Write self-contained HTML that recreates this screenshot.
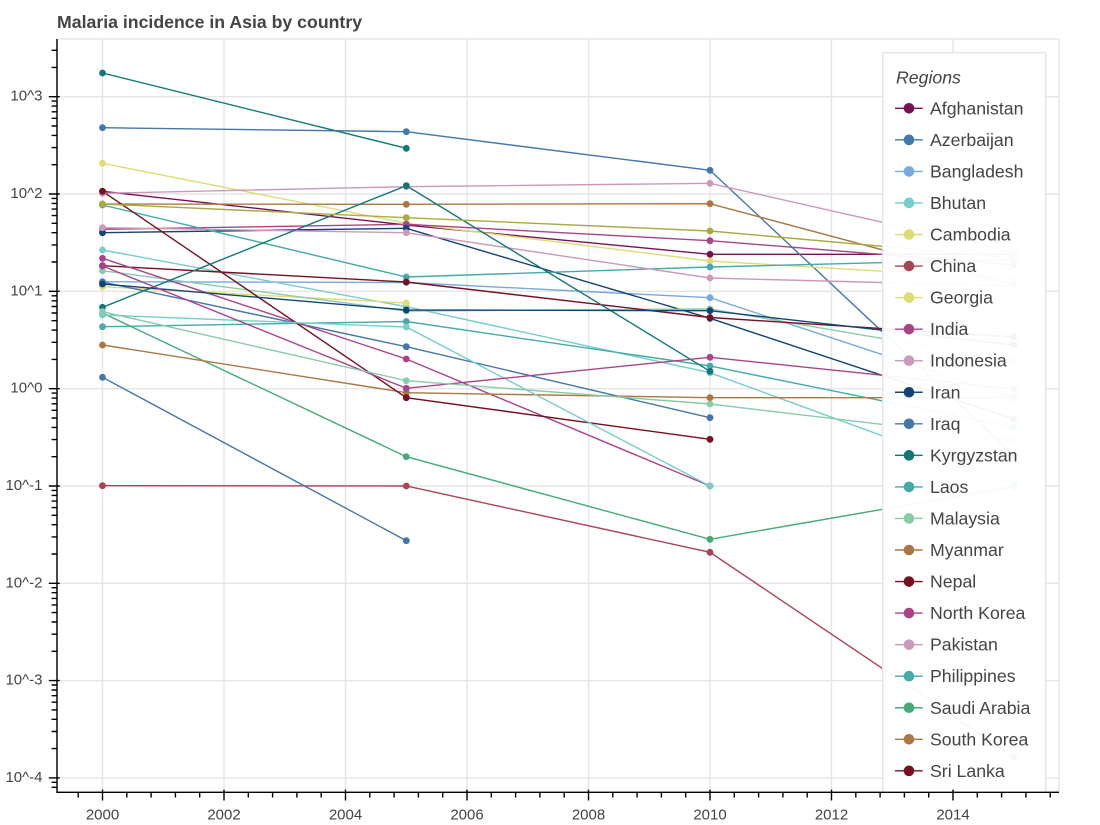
<!DOCTYPE html>
<html><head><meta charset="utf-8"><style>
html,body{margin:0;padding:0;background:#fff;}
svg{display:block;font-family:"Liberation Sans",Arial,sans-serif;}
</style></head><body>
<svg width="1100" height="825" viewBox="0 0 1100 825" xmlns="http://www.w3.org/2000/svg">
<defs><clipPath id="pc"><rect x="57" y="39" width="1002" height="753"/></clipPath></defs>
<rect width="1100" height="825" fill="#fff"/>
<text x="57" y="28" font-size="17.7" font-weight="bold" fill="#444">Malaria incidence in Asia by country</text>
<!-- grid -->
<g stroke="#e5e5e5" stroke-width="1.4" fill="none">
<path d="M102.5 39V792M224 39V792M345.5 39V792M467 39V792M588.5 39V792M710 39V792M831.5 39V792M953 39V792"/>
<path d="M57 96.7H1059M57 194H1059M57 291.3H1059M57 388.7H1059M57 486H1059M57 583.3H1059M57 680.6H1059M57 777.9H1059"/>
<rect x="57" y="39" width="1002" height="753"/>
</g>
<!-- series -->
<g clip-path="url(#pc)" stroke-width="1.4" fill="none">
<g stroke="#771155"><polyline points="102.5,191.3 406.3,225 710,254.3 1013.8,254.3"/></g>
<g stroke="#4477AA"><polyline points="102.5,127.7 406.3,131.7 710,170.3 1013.8,455"/></g>
<g stroke="#77AADD"><polyline points="102.5,281.7 406.3,282.5 710,297.7 1013.8,398"/></g>
<g stroke="#77CCCC"><polyline points="102.5,250 406.3,306.7 710,372.7 1013.8,484"/></g>
<g stroke="#DDDD77"><polyline points="102.5,163.3 406.3,223.2 710,261 1013.8,279"/></g>
<g stroke="#AA4455"><polyline points="102.5,485.7 406.3,486 710,552.3 1013.8,757"/></g>
<g stroke="#DDDD77"><polyline points="102.5,286.7 406.3,303"/></g>
<g stroke="#AA4488"><polyline points="102.5,229.3 406.3,224.3 710,240.7 1013.8,265"/></g>
<g stroke="#CC99BB"><polyline points="102.5,193.3 406.3,186.7 710,183.3 1013.8,252"/></g>
<g stroke="#114477"><polyline points="102.5,232.7 406.3,228.3 710,318.3 1013.8,419"/></g>
<g stroke="#4477AA"><polyline points="102.5,282 406.3,346.7 710,417.7"/></g>
<g stroke="#117777"><polyline points="102.5,73 406.3,148.3"/></g>
<g stroke="#44AAAA"><polyline points="102.5,205 406.3,277 710,267 1013.8,259.3"/></g>
<g stroke="#88CCAA"><polyline points="102.5,270.7 406.3,311 710,309 1013.8,361"/></g>
<g stroke="#AA7744"><polyline points="102.5,204 406.3,204.3 710,203.7 1013.8,285"/></g>
<g stroke="#771122"><polyline points="102.5,265.7 406.3,282 710,317.5 1013.8,337"/></g>
<g stroke="#AA4488"><polyline points="102.5,258.3 406.3,359 710,486"/></g>
<g stroke="#CC99BB"><polyline points="102.5,227.7 406.3,232.7 710,278 1013.8,286"/></g>
<g stroke="#44AAAA"><polyline points="102.5,326.7 406.3,321.5 710,366 1013.8,427.5"/></g>
<g stroke="#44AA77"><polyline points="102.5,313 406.3,456.7 710,539.3 1013.8,486.5"/></g>
<g stroke="#AA7744"><polyline points="102.5,345 406.3,392.7 710,397.7 1013.8,397.7"/></g>
<g stroke="#771122"><polyline points="102.5,191.3 406.3,397.7 710,439.3"/></g>
<g stroke="#117777"><polyline points="102.5,307.3 406.3,185.7 710,371.3"/></g>
<g stroke="#AAAA44"><polyline points="102.5,204 406.3,217.7 710,231 1013.8,258"/></g>
<g stroke="#4477AA"><polyline points="102.5,377.3 406.3,540.7"/></g>
<g stroke="#77CCCC"><polyline points="102.5,315 406.3,327 710,486"/></g>
<g stroke="#114477"><polyline points="102.5,284 406.3,310 710,310.7 1013.8,345"/></g>
<g stroke="#AA4488"><polyline points="102.5,266 406.3,388.3 710,357.3 1013.8,389"/></g>
<g stroke="#88CCAA"><polyline points="102.5,311.7 406.3,380.7 710,404 1013.8,440"/></g>
</g>
<!-- dots -->
<g clip-path="url(#pc)" stroke="none">
<g fill="#771155"><circle cx="102.5" cy="191.3" r="3.4"/><circle cx="406.3" cy="225" r="3.4"/><circle cx="710" cy="254.3" r="3.4"/><circle cx="1013.8" cy="254.3" r="3.4"/></g>
<g fill="#4477AA"><circle cx="102.5" cy="127.7" r="3.4"/><circle cx="406.3" cy="131.7" r="3.4"/><circle cx="710" cy="170.3" r="3.4"/><circle cx="1013.8" cy="455" r="3.4"/></g>
<g fill="#77AADD"><circle cx="102.5" cy="281.7" r="3.4"/><circle cx="406.3" cy="282.5" r="3.4"/><circle cx="710" cy="297.7" r="3.4"/><circle cx="1013.8" cy="398" r="3.4"/></g>
<g fill="#77CCCC"><circle cx="102.5" cy="250" r="3.4"/><circle cx="406.3" cy="306.7" r="3.4"/><circle cx="710" cy="372.7" r="3.4"/><circle cx="1013.8" cy="484" r="3.4"/></g>
<g fill="#DDDD77"><circle cx="102.5" cy="163.3" r="3.4"/><circle cx="406.3" cy="223.2" r="3.4"/><circle cx="710" cy="261" r="3.4"/><circle cx="1013.8" cy="279" r="3.4"/></g>
<g fill="#AA4455"><circle cx="102.5" cy="485.7" r="3.4"/><circle cx="406.3" cy="486" r="3.4"/><circle cx="710" cy="552.3" r="3.4"/><circle cx="1013.8" cy="757" r="3.4"/></g>
<g fill="#DDDD77"><circle cx="102.5" cy="286.7" r="3.4"/><circle cx="406.3" cy="303" r="3.4"/></g>
<g fill="#AA4488"><circle cx="102.5" cy="229.3" r="3.4"/><circle cx="406.3" cy="224.3" r="3.4"/><circle cx="710" cy="240.7" r="3.4"/><circle cx="1013.8" cy="265" r="3.4"/></g>
<g fill="#CC99BB"><circle cx="102.5" cy="193.3" r="3.4"/><circle cx="406.3" cy="186.7" r="3.4"/><circle cx="710" cy="183.3" r="3.4"/><circle cx="1013.8" cy="252" r="3.4"/></g>
<g fill="#114477"><circle cx="102.5" cy="232.7" r="3.4"/><circle cx="406.3" cy="228.3" r="3.4"/><circle cx="710" cy="318.3" r="3.4"/><circle cx="1013.8" cy="419" r="3.4"/></g>
<g fill="#4477AA"><circle cx="102.5" cy="282" r="3.4"/><circle cx="406.3" cy="346.7" r="3.4"/><circle cx="710" cy="417.7" r="3.4"/></g>
<g fill="#117777"><circle cx="102.5" cy="73" r="3.4"/><circle cx="406.3" cy="148.3" r="3.4"/></g>
<g fill="#44AAAA"><circle cx="102.5" cy="205" r="3.4"/><circle cx="406.3" cy="277" r="3.4"/><circle cx="710" cy="267" r="3.4"/><circle cx="1013.8" cy="259.3" r="3.4"/></g>
<g fill="#88CCAA"><circle cx="102.5" cy="270.7" r="3.4"/><circle cx="406.3" cy="311" r="3.4"/><circle cx="710" cy="309" r="3.4"/><circle cx="1013.8" cy="361" r="3.4"/></g>
<g fill="#AA7744"><circle cx="102.5" cy="204" r="3.4"/><circle cx="406.3" cy="204.3" r="3.4"/><circle cx="710" cy="203.7" r="3.4"/><circle cx="1013.8" cy="285" r="3.4"/></g>
<g fill="#771122"><circle cx="102.5" cy="265.7" r="3.4"/><circle cx="406.3" cy="282" r="3.4"/><circle cx="710" cy="317.5" r="3.4"/><circle cx="1013.8" cy="337" r="3.4"/></g>
<g fill="#AA4488"><circle cx="102.5" cy="258.3" r="3.4"/><circle cx="406.3" cy="359" r="3.4"/><circle cx="710" cy="486" r="3.4"/></g>
<g fill="#CC99BB"><circle cx="102.5" cy="227.7" r="3.4"/><circle cx="406.3" cy="232.7" r="3.4"/><circle cx="710" cy="278" r="3.4"/><circle cx="1013.8" cy="286" r="3.4"/></g>
<g fill="#44AAAA"><circle cx="102.5" cy="326.7" r="3.4"/><circle cx="406.3" cy="321.5" r="3.4"/><circle cx="710" cy="366" r="3.4"/><circle cx="1013.8" cy="427.5" r="3.4"/></g>
<g fill="#44AA77"><circle cx="102.5" cy="313" r="3.4"/><circle cx="406.3" cy="456.7" r="3.4"/><circle cx="710" cy="539.3" r="3.4"/><circle cx="1013.8" cy="486.5" r="3.4"/></g>
<g fill="#AA7744"><circle cx="102.5" cy="345" r="3.4"/><circle cx="406.3" cy="392.7" r="3.4"/><circle cx="710" cy="397.7" r="3.4"/><circle cx="1013.8" cy="397.7" r="3.4"/></g>
<g fill="#771122"><circle cx="102.5" cy="191.3" r="3.4"/><circle cx="406.3" cy="397.7" r="3.4"/><circle cx="710" cy="439.3" r="3.4"/></g>
<g fill="#117777"><circle cx="102.5" cy="307.3" r="3.4"/><circle cx="406.3" cy="185.7" r="3.4"/><circle cx="710" cy="371.3" r="3.4"/></g>
<g fill="#AAAA44"><circle cx="102.5" cy="204" r="3.4"/><circle cx="406.3" cy="217.7" r="3.4"/><circle cx="710" cy="231" r="3.4"/><circle cx="1013.8" cy="258" r="3.4"/></g>
<g fill="#4477AA"><circle cx="102.5" cy="377.3" r="3.4"/><circle cx="406.3" cy="540.7" r="3.4"/></g>
<g fill="#77CCCC"><circle cx="102.5" cy="315" r="3.4"/><circle cx="406.3" cy="327" r="3.4"/><circle cx="710" cy="486" r="3.4"/></g>
<g fill="#114477"><circle cx="102.5" cy="284" r="3.4"/><circle cx="406.3" cy="310" r="3.4"/><circle cx="710" cy="310.7" r="3.4"/><circle cx="1013.8" cy="345" r="3.4"/></g>
<g fill="#AA4488"><circle cx="102.5" cy="266" r="3.4"/><circle cx="406.3" cy="388.3" r="3.4"/><circle cx="710" cy="357.3" r="3.4"/><circle cx="1013.8" cy="389" r="3.4"/></g>
<g fill="#88CCAA"><circle cx="102.5" cy="311.7" r="3.4"/><circle cx="406.3" cy="380.7" r="3.4"/><circle cx="710" cy="404" r="3.4"/><circle cx="1013.8" cy="440" r="3.4"/></g>
</g>
<!-- legend -->
<g clip-path="url(#pc)">
<rect x="882.7" y="52.7" width="163" height="760" fill="#fff" fill-opacity="0.95" stroke="#e5e5e5" stroke-width="1.4"/>
<text x="896" y="83.5" font-size="17.7" font-style="italic" fill="#444">Regions</text>
<g font-size="17.7" fill="#444" stroke-width="1.4">
<g transform="translate(0,108.3)"><path d="M895 0H922.7" stroke="#771155"/><circle cx="909" cy="0" r="5.3" fill="#771155"/><text x="930" y="6">Afghanistan</text></g>
<g transform="translate(0,139.85)"><path d="M895 0H922.7" stroke="#4477AA"/><circle cx="909" cy="0" r="5.3" fill="#4477AA"/><text x="930" y="6">Azerbaijan</text></g>
<g transform="translate(0,171.4)"><path d="M895 0H922.7" stroke="#77AADD"/><circle cx="909" cy="0" r="5.3" fill="#77AADD"/><text x="930" y="6">Bangladesh</text></g>
<g transform="translate(0,202.95)"><path d="M895 0H922.7" stroke="#77CCCC"/><circle cx="909" cy="0" r="5.3" fill="#77CCCC"/><text x="930" y="6">Bhutan</text></g>
<g transform="translate(0,234.5)"><path d="M895 0H922.7" stroke="#DDDD77"/><circle cx="909" cy="0" r="5.3" fill="#DDDD77"/><text x="930" y="6">Cambodia</text></g>
<g transform="translate(0,266.05)"><path d="M895 0H922.7" stroke="#AA4455"/><circle cx="909" cy="0" r="5.3" fill="#AA4455"/><text x="930" y="6">China</text></g>
<g transform="translate(0,297.6)"><path d="M895 0H922.7" stroke="#DDDD77"/><circle cx="909" cy="0" r="5.3" fill="#DDDD77"/><text x="930" y="6">Georgia</text></g>
<g transform="translate(0,329.15)"><path d="M895 0H922.7" stroke="#AA4488"/><circle cx="909" cy="0" r="5.3" fill="#AA4488"/><text x="930" y="6">India</text></g>
<g transform="translate(0,360.7)"><path d="M895 0H922.7" stroke="#CC99BB"/><circle cx="909" cy="0" r="5.3" fill="#CC99BB"/><text x="930" y="6">Indonesia</text></g>
<g transform="translate(0,392.25)"><path d="M895 0H922.7" stroke="#114477"/><circle cx="909" cy="0" r="5.3" fill="#114477"/><text x="930" y="6">Iran</text></g>
<g transform="translate(0,423.8)"><path d="M895 0H922.7" stroke="#4477AA"/><circle cx="909" cy="0" r="5.3" fill="#4477AA"/><text x="930" y="6">Iraq</text></g>
<g transform="translate(0,455.35)"><path d="M895 0H922.7" stroke="#117777"/><circle cx="909" cy="0" r="5.3" fill="#117777"/><text x="930" y="6">Kyrgyzstan</text></g>
<g transform="translate(0,486.9)"><path d="M895 0H922.7" stroke="#44AAAA"/><circle cx="909" cy="0" r="5.3" fill="#44AAAA"/><text x="930" y="6">Laos</text></g>
<g transform="translate(0,518.45)"><path d="M895 0H922.7" stroke="#88CCAA"/><circle cx="909" cy="0" r="5.3" fill="#88CCAA"/><text x="930" y="6">Malaysia</text></g>
<g transform="translate(0,550)"><path d="M895 0H922.7" stroke="#AA7744"/><circle cx="909" cy="0" r="5.3" fill="#AA7744"/><text x="930" y="6">Myanmar</text></g>
<g transform="translate(0,581.55)"><path d="M895 0H922.7" stroke="#771122"/><circle cx="909" cy="0" r="5.3" fill="#771122"/><text x="930" y="6">Nepal</text></g>
<g transform="translate(0,613.1)"><path d="M895 0H922.7" stroke="#AA4488"/><circle cx="909" cy="0" r="5.3" fill="#AA4488"/><text x="930" y="6">North Korea</text></g>
<g transform="translate(0,644.65)"><path d="M895 0H922.7" stroke="#CC99BB"/><circle cx="909" cy="0" r="5.3" fill="#CC99BB"/><text x="930" y="6">Pakistan</text></g>
<g transform="translate(0,676.2)"><path d="M895 0H922.7" stroke="#44AAAA"/><circle cx="909" cy="0" r="5.3" fill="#44AAAA"/><text x="930" y="6">Philippines</text></g>
<g transform="translate(0,707.75)"><path d="M895 0H922.7" stroke="#44AA77"/><circle cx="909" cy="0" r="5.3" fill="#44AA77"/><text x="930" y="6">Saudi Arabia</text></g>
<g transform="translate(0,739.3)"><path d="M895 0H922.7" stroke="#AA7744"/><circle cx="909" cy="0" r="5.3" fill="#AA7744"/><text x="930" y="6">South Korea</text></g>
<g transform="translate(0,770.85)"><path d="M895 0H922.7" stroke="#771122"/><circle cx="909" cy="0" r="5.3" fill="#771122"/><text x="930" y="6">Sri Lanka</text></g>
</g>
</g>
<!-- axes -->
<g stroke="#000" stroke-width="1.4" fill="none">
<path d="M57 39V792.7M56.3 792.3H1059"/>
<path d="M48.8 96.7H59.7M48.8 194H59.7M48.8 291.3H59.7M48.8 388.7H59.7M48.8 486H59.7M48.8 583.3H59.7M48.8 680.6H59.7M48.8 777.9H59.7"/>
<path d="M51.6 67.4H57M51.6 50.3H57
M51.6 164.7H57M51.6 147.6H57M51.6 135.4H57M51.6 126H57M51.6 118.3H57M51.6 111.8H57M51.6 106.1H57M51.6 101.1H57
M51.6 262H57M51.6 244.9H57M51.6 232.7H57M51.6 223.3H57M51.6 215.6H57M51.6 209.1H57M51.6 203.4H57M51.6 198.4H57
M51.6 359.4H57M51.6 342.3H57M51.6 330.1H57M51.6 320.7H57M51.6 313H57M51.6 306.5H57M51.6 300.8H57M51.6 295.8H57
M51.6 456.7H57M51.6 439.6H57M51.6 427.4H57M51.6 418H57M51.6 410.3H57M51.6 403.8H57M51.6 398.1H57M51.6 393.1H57
M51.6 554H57M51.6 536.9H57M51.6 524.7H57M51.6 515.3H57M51.6 507.6H57M51.6 501.1H57M51.6 495.4H57M51.6 490.4H57
M51.6 651.3H57M51.6 634.2H57M51.6 622H57M51.6 612.6H57M51.6 604.9H57M51.6 598.4H57M51.6 592.7H57M51.6 587.7H57
M51.6 748.6H57M51.6 731.5H57M51.6 719.3H57M51.6 709.9H57M51.6 702.2H57M51.6 695.7H57M51.6 690H57M51.6 685H57
M51.6 787.3H57M51.6 782.3H57"/>
<path d="M102.5 789.6V800.5M224 789.6V800.5M345.5 789.6V800.5M467 789.6V800.5M588.5 789.6V800.5M710 789.6V800.5M831.5 789.6V800.5M953 789.6V800.5"/>
<path d="M78.2 792V797.5M126.8 792V797.5M151.1 792V797.5M175.4 792V797.5M199.7 792V797.5M248.3 792V797.5M272.6 792V797.5M296.9 792V797.5M321.2 792V797.5M369.8 792V797.5M394.1 792V797.5M418.4 792V797.5M442.7 792V797.5M491.3 792V797.5M515.6 792V797.5M539.9 792V797.5M564.2 792V797.5M612.8 792V797.5M637.1 792V797.5M661.4 792V797.5M685.7 792V797.5M734.3 792V797.5M758.6 792V797.5M782.9 792V797.5M807.2 792V797.5M855.8 792V797.5M880.1 792V797.5M904.4 792V797.5M928.7 792V797.5M977.3 792V797.5M1001.6 792V797.5M1025.9 792V797.5M1050.2 792V797.5"/>
</g>
<g font-size="15" fill="#444" text-anchor="end">
<text x="42.5" y="100.7">10^3</text>
<text x="42.5" y="198">10^2</text>
<text x="42.5" y="295.3">10^1</text>
<text x="42.5" y="392.7">10^0</text>
<text x="42.5" y="490">10^-1</text>
<text x="42.5" y="587.3">10^-2</text>
<text x="42.5" y="684.6">10^-3</text>
<text x="42.5" y="781.9">10^-4</text>
</g>
<g font-size="15" fill="#444" text-anchor="middle">
<text x="102.5" y="819.3">2000</text>
<text x="224" y="819.3">2002</text>
<text x="345.5" y="819.3">2004</text>
<text x="467" y="819.3">2006</text>
<text x="588.5" y="819.3">2008</text>
<text x="710" y="819.3">2010</text>
<text x="831.5" y="819.3">2012</text>
<text x="953" y="819.3">2014</text>
</g>
</svg>
</body></html>
